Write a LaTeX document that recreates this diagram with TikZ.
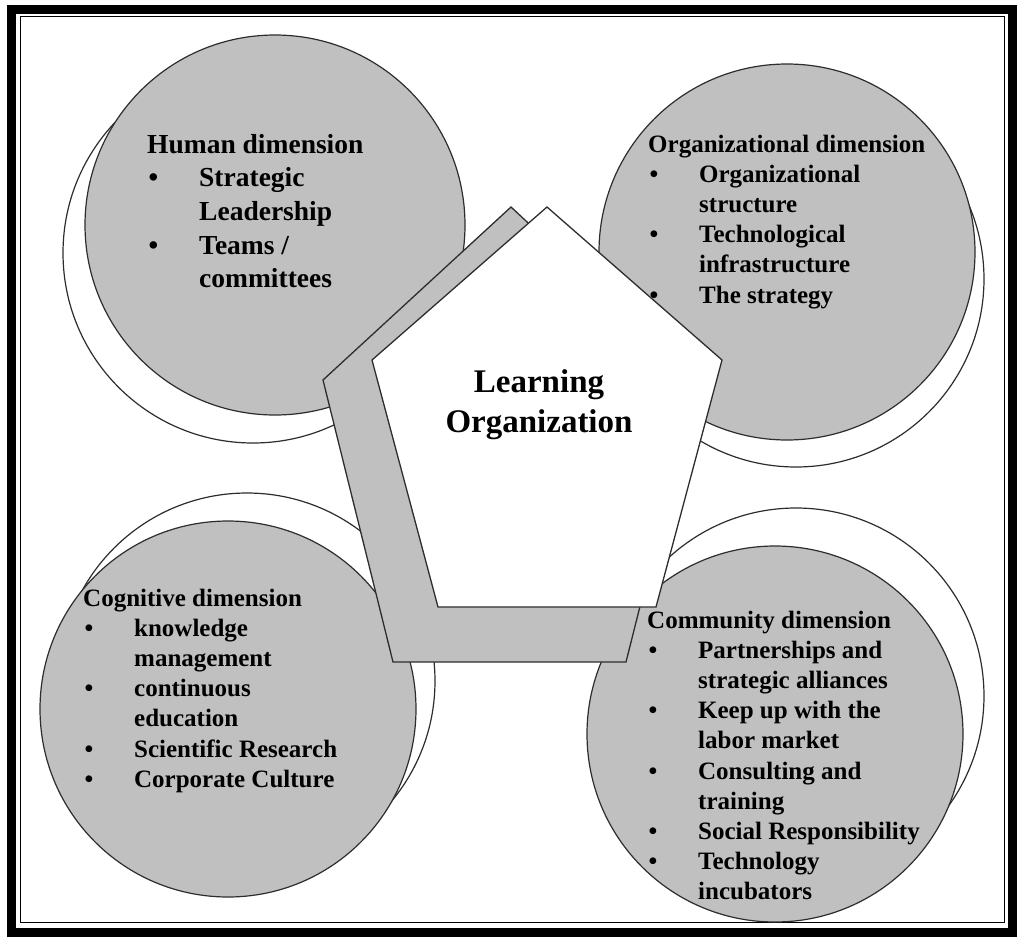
\documentclass[tikz,border=0pt]{standalone}
\usepackage{fontspec}
\setmainfont{Liberation Serif}
\definecolor{circgray}{RGB}{192,192,192}
\definecolor{edgecol}{RGB}{45,45,45}
\tikzset{
  backcirc/.style={draw=edgecol, line width=1.2pt, fill=white},
  frontcirc/.style={draw=edgecol, line width=1.2pt, fill=circgray},
  shadowpent/.style={draw=edgecol, line width=1.3pt, fill=circgray, line join=miter},
  mainpent/.style={draw=edgecol, line width=1.3pt, fill=white, line join=miter},
  listtxt/.style={anchor=base west, inner sep=0pt, text=black, font=\bfseries\fontsize{25}{30.2}\selectfont},
  bigtxt/.style={anchor=base west, inner sep=0pt, text=black, font=\bfseries\fontsize{27.5}{33.7}\selectfont},
  centretxt/.style={inner sep=0pt, text=black, align=center, font=\bfseries\fontsize{33}{40}\selectfont}
}
\newlength\indw
\setlength\indw{51pt}
\newcommand\bitem[1]{\makebox[\indw][l]{\hspace{1.5pt}\textbullet}#1}
\newcommand\cont[1]{\hspace*{\indw}#1}
\begin{document}
\begin{tikzpicture}[x=1pt,y=-1pt]
\useasboundingbox (0,0) rectangle (1021,938);
% frame
\draw[line width=9pt] (11.5,9) rectangle (1012.5,932);
\draw[line width=1.5pt] (20.5,16.5) rectangle (1004.5,922.5);

% Human dimension
\draw[backcirc] (253,253) circle (190);
\draw[frontcirc] (275,225) circle (190);
\node[bigtxt] (human) at (147,153) {\parbox[t]{320pt}{%
  Human dimension\\
  \setlength\indw{52pt}\bitem{Strategic}\\
  \cont{Leadership}\\
  \bitem{Teams /}\\
  \cont{committees}}};

% Organizational dimension
\draw[backcirc] (796,279) circle (188);
\draw[frontcirc] (787,252) circle (188);
\node[listtxt] (org) at (648,152) {\parbox[t]{340pt}{%
  Organizational dimension\\
  \bitem{Organizational}\\
  \cont{structure}\\
  \bitem{Technological}\\
  \cont{infrastructure}\\
  \bitem{The strategy}}};

% Cognitive dimension
\draw[backcirc] (247,681) circle (188);
\draw[frontcirc] (228,709) circle (188);
\node[listtxt] (cog) at (83,606) {\parbox[t]{340pt}{%
  Cognitive dimension\\
  \bitem{knowledge}\\
  \cont{management}\\
  \bitem{continuous}\\
  \cont{education}\\
  \bitem{Scientific Research}\\
  \bitem{Corporate Culture}}};

% Community dimension
\draw[backcirc] (796,696) circle (188);
\draw[frontcirc] (775,734) circle (188);
\node[listtxt] (comm) at (647,628) {\parbox[t]{340pt}{%
  Community dimension\\
  \bitem{Partnerships and}\\
  \cont{strategic alliances}\\
  \bitem{Keep up with the}\\
  \cont{labor market}\\
  \bitem{Consulting and}\\
  \cont{training}\\
  \bitem{Social Responsibility}\\
  \bitem{Technology}\\
  \cont{incubators}}};

% central pentagon with shadow
\draw[shadowpent] (511,207) -- (697,380) -- (626,662) -- (393,662) -- (323,380) -- cycle;
\draw[mainpent] (547,207) -- (722,360) -- (656,607) -- (438,607) -- (372,360) -- cycle;
\node[centretxt] (lo) at (539,405) {Learning\\Organization};
\end{tikzpicture}
\end{document}
